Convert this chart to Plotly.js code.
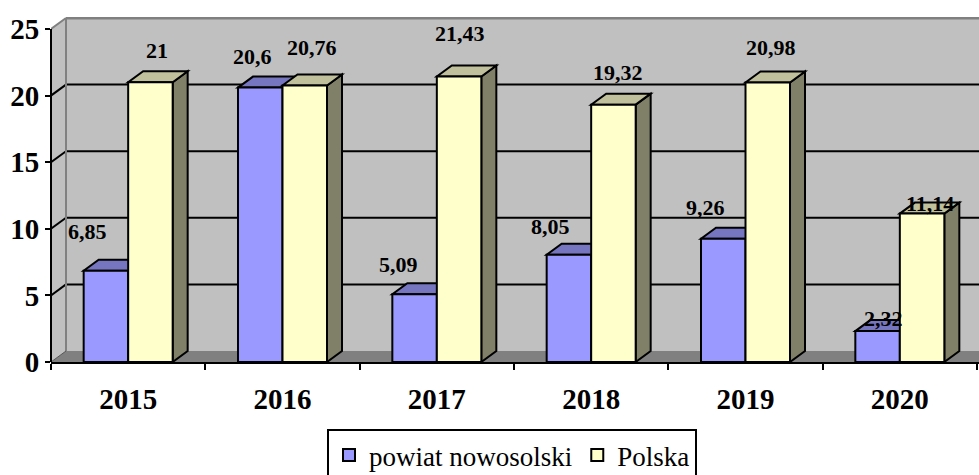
<!DOCTYPE html>
<html>
<head>
<meta charset="utf-8">
<script src="https://cdn.plot.ly/plotly-3.0.1.min.js"></script>
<style>html,body{margin:0;padding:0;background:#fff;}#chart{width:979px;height:475px;}</style>
</head>
<body>
<div id="chart"></div>
<script>
// ---- data ----
const categories = ['2015', '2016', '2017', '2018', '2019', '2020'];
const powiatValues = [6.85, 20.6, 5.09, 8.05, 9.26, 2.32];
const polskaValues = [21, 20.76, 21.43, 19.32, 20.98, 11.14];
const seriesNames = ['powiat nowosolski', 'Polska'];
const yTickValues = [0, 5, 10, 15, 20, 25];

// ---- label nudges (pixels, layout only) ----
const powiatLabelDx = [-18, -8, -16, -18, -18, 6];
const powiatLabelDy = [39, 31, 30, 28, 31, 13];
const polskaLabelDx = [7, 7, 1, 5, 3, 8];
const polskaLabelDy = [32, 38, 43, 32, 35, 10];

// ---- geometry (layout) ----
const W = 979, H = 475;
const M = {l: 51, r: 0, t: 17, b: 113, autoexpand: false};
const plotW = W - M.l - M.r, plotH = H - M.t - M.b;
const pxPerCat = 926 / categories.length;
const xMin = -0.5, xMax = xMin + plotW / pxPerCat;
const yTop = 25, pxPerUnit = 333 / yTop;
const yMax = plotH / pxPerUnit;
const depthX = 15 / pxPerCat, depthY = 11 / pxPerUnit;
const barW = 44.5 / pxPerCat;

const FONT = 'Liberation Serif';

const colors = {
  blue: '#9999FF', blueTop: '#7676C0', blueSide: '#4C4C80',
  yellow: '#FFFFCC', yellowTop: '#C0C09C', yellowSide: '#808068',
  wall: '#C0C0C0', floor: '#808080', edge: '#808080'
};

const fmt = v => String(v).replace('.', ',');

const shapes = [];
function poly(pts, fill, lineColor, lw) {
  let p = 'M' + pts.map(q => q[0] + ',' + q[1]).join('L') + 'Z';
  shapes.push({type: 'path', xref: 'x', yref: 'y', path: p, fillcolor: fill,
    line: {color: lineColor, width: lw}, layer: 'below'});
}
function seg(x0, y0, x1, y1, color, lw, xref) {
  shapes.push({type: 'line', xref: xref || 'x', yref: 'y', x0: x0, y0: y0, x1: x1, y1: y1,
    line: {color: color, width: lw}, layer: 'below'});
}

// back wall
poly([[xMin + depthX, depthY], [xMax + 1, depthY], [xMax + 1, yTop + depthY], [xMin + depthX, yTop + depthY]], colors.wall, colors.wall, 0);
// left wall
poly([[xMin, 0], [xMin + depthX, depthY], [xMin + depthX, yTop + depthY], [xMin, yTop]], colors.wall, colors.wall, 0);
// floor
poly([[xMin, 0], [xMax + 1, 0], [xMax + 1, depthY], [xMin + depthX, depthY]], colors.floor, colors.floor, 0);
// gridlines
yTickValues.forEach(v => {
  if (v === 0 || v === yTop) return;
  seg(xMin, v, xMin + depthX, v + depthY, '#000', 2);
  seg(xMin + depthX, v + depthY, xMax + 1, v + depthY, '#000', 2);
});
// wall edges
seg(xMin + depthX, depthY, xMin + depthX, yTop + depthY, colors.edge, 2);
seg(xMin + depthX, yTop + depthY, xMax + 1, yTop + depthY, colors.edge, 3);
seg(xMin, yTop, xMin + depthX, yTop + depthY, colors.edge, 2);
seg(xMin, 0, xMin + depthX, depthY, '#555', 1);

// 3D faces for bars
function faces(values, off, topC, sideC) {
  values.forEach((v, i) => {
    const x0 = i + off, x1 = x0 + barW;
    poly([[x1, 0], [x1 + depthX, depthY], [x1 + depthX, v + depthY], [x1, v]], sideC, '#000', 2);
    poly([[x0, v], [x1, v], [x1 + depthX, v + depthY], [x0 + depthX, v + depthY]], topC, '#000', 2);
  });
}
faces(powiatValues, -barW, colors.blueTop, colors.blueSide);
faces(polskaValues, 0, colors.yellowTop, colors.yellowSide);

// y axis line
shapes.push({type: 'line', xref: 'paper', yref: 'y', x0: 0, x1: 0, y0: 0, y1: yTop,
  line: {color: '#000', width: 2}, layer: 'above'});

// labels
const annotations = [];
const labelFont = {family: FONT, size: 22, color: '#000', weight: 'bold'};
powiatValues.forEach((v, i) => annotations.push({x: i - barW / 2, y: v, xref: 'x', yref: 'y',
  text: fmt(v), showarrow: false, xshift: powiatLabelDx[i], yshift: powiatLabelDy[i], font: labelFont}));
polskaValues.forEach((v, i) => annotations.push({x: i + barW / 2, y: v, xref: 'x', yref: 'y',
  text: fmt(v), showarrow: false, xshift: polskaLabelDx[i], yshift: polskaLabelDy[i], font: labelFont}));

const traces = [
  {type: 'bar', name: seriesNames[0], x: categories, y: powiatValues, width: barW, offset: -barW,
   marker: {color: colors.blue, line: {color: '#000', width: 2}}, hoverinfo: 'skip'},
  {type: 'bar', name: seriesNames[1], x: categories, y: polskaValues, width: barW, offset: 0,
   marker: {color: colors.yellow, line: {color: '#000', width: 2}}, hoverinfo: 'skip'}
];

const layout = {
  width: W, height: H,
  margin: M,
  font: {family: FONT},
  paper_bgcolor: '#fff', plot_bgcolor: 'rgba(0,0,0,0)',
  barmode: 'overlay',
  showlegend: true,
  legend: {orientation: 'h', x: (327 - M.l) / plotW, xanchor: 'left', y: -67 / plotH, yanchor: 'top',
    bordercolor: '#000', borderwidth: 2, bgcolor: '#fff',
    font: {family: FONT, size: 27, color: '#000'}, traceorder: 'normal'},
  xaxis: {type: 'category', range: [xMin, xMax], tickson: 'boundaries', ticks: 'outside',
    ticklen: 6, tickwidth: 2, tickcolor: '#000', showline: true, linecolor: '#000', linewidth: 2,
    showgrid: false, zeroline: false, ticklabelstandoff: 10,
    tickfont: {family: FONT, size: 29, color: '#000', weight: 'bold'}},
  yaxis: {range: [0, yMax], tickvals: yTickValues, ticks: 'outside', ticklen: 5, tickwidth: 2,
    tickcolor: '#000', showline: false, showgrid: false, zeroline: false,
    tickfont: {family: FONT, size: 29, color: '#000', weight: 'bold'}},
  shapes: shapes,
  annotations: annotations
};

Plotly.newPlot('chart', traces, layout, {staticPlot: true, displayModeBar: false});
</script>
</body>
</html>
